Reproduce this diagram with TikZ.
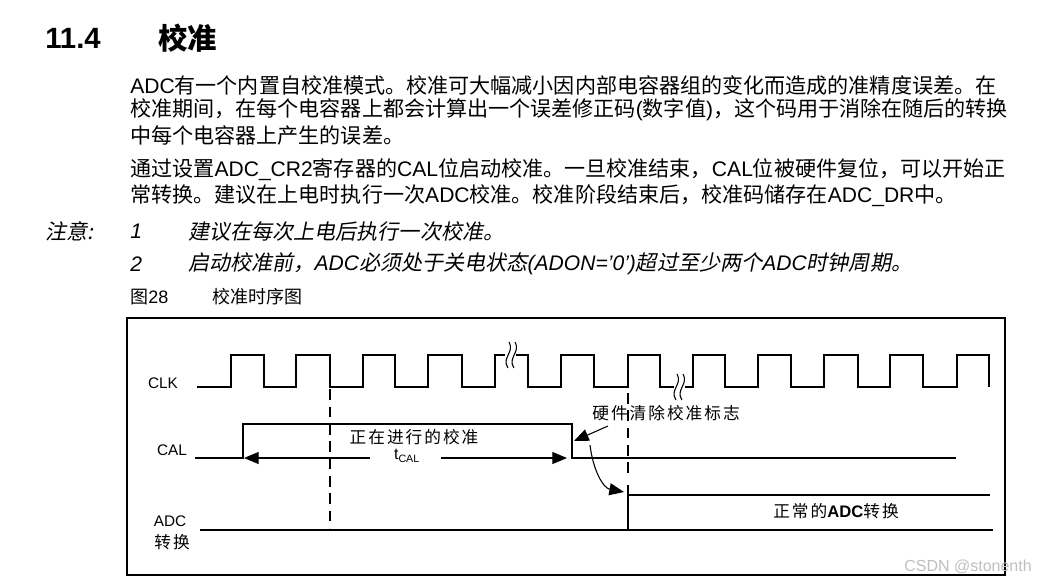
\documentclass[tikz,border=0pt]{standalone}
\usepackage{fontspec}
\setmainfont{Noto Sans CJK SC}
\newfontfamily\lat{Liberation Sans}
\newfontfamily\cjit[FakeSlant=0.2]{Noto Sans CJK SC}
\newfontfamily\latit{Liberation Sans Italic}
\newfontfamily\cjsp[LetterSpace=12]{Noto Sans CJK SC}
\usetikzlibrary{arrows.meta}
\begin{document}
\begin{tikzpicture}[x=0.75pt,y=-0.75pt,
  body/.style={anchor=west,inner sep=0,font=\fontsize{15.8}{17}\selectfont},
  dg/.style={inner sep=0,font=\fontsize{12.5}{14}\selectfont\cjsp},
  sig/.style={line width=0.9pt},
  dsh/.style={line width=0.9pt,dash pattern=on 8pt off 5pt},
  arr/.style={-{Triangle[length=11pt,width=9pt]},line width=0.8pt}]
\useasboundingbox (0,0) rectangle (1048,586);
% title
\node[body,font=\fontsize{22}{24}\bfseries\selectfont\lat] (t1) at (45,38) {11.4};
\node[body,font=\fontsize{22}{24}\selectfont\bfseries] (t2) at (158,38) {校准};
% paragraphs
\node[body] (p1) at (130,85) {{\lat ADC}有一个内置自校准模式。校准可大幅减小因内部电容器组的变化而造成的准精度误差。在};
\node[body] (p2) at (130,110) {校准期间，在每个电容器上都会计算出一个误差修正码{\lat (}数字值{\lat )}，这个码用于消除在随后的转换};
\node[body] (p3) at (130,135) {中每个电容器上产生的误差。};
\node[body] (p4) at (130,170) {通过设置{\lat ADC\_CR2}寄存器的{\lat CAL}位启动校准。一旦校准结束，{\lat CAL}位被硬件复位，可以开始正};
\node[body] (p5) at (130,196) {常转换。建议在上电时执行一次{\lat ADC}校准。校准阶段结束后，校准码储存在{\lat ADC\_DR}中。};
\node[body,font=\fontsize{15.8}{17}\selectfont\cjit] (n0) at (45,231) {注意:};
\node[body,font=\fontsize{15.8}{17}\selectfont\latit] (n1) at (130,231) {1};
\node[body,font=\fontsize{15.8}{17}\selectfont\cjit] (n1t) at (188,231) {建议在每次上电后执行一次校准。};
\node[body,font=\fontsize{15.8}{17}\selectfont\latit] (n2) at (130,264) {2};
\node[body,font=\fontsize{15.8}{17}\selectfont\cjit] (n2t) at (188,264) {启动校准前，{\latit ADC}必须处于关电状态{\latit (ADON=’0’)}超过至少两个{\latit ADC}时钟周期。};
\node[body,font=\fontsize{13.5}{15}\selectfont] (f1) at (130,297) {图{\lat 28}};
\node[body,font=\fontsize{13.5}{15}\selectfont] (f2) at (212,297) {校准时序图};
% frame
\draw[line width=0.9pt] (127,318) rectangle (1005,575);
% labels
\node[dg,font=\fontsize{11.5}{13}\selectfont\lat] (clk) at (163,383) {CLK};
\node[dg,font=\fontsize{11.5}{13}\selectfont\lat] (cal) at (172,450) {CAL};
\node[dg,font=\fontsize{11.5}{13}\selectfont\lat] (adc) at (170,521) {ADC};
\node[dg] (adc2) at (172,542) {转换};
% clock
\draw[sig] (197,387) -- (231,387) -- (231,355) -- (264,355) -- (264,387) -- (296,387) -- (296,355) -- (330,355) -- (330,387)
 -- (363,387) -- (363,355) -- (395,355) -- (395,387) -- (428,387) -- (428,355) -- (462,355) -- (462,387) -- (495,387) -- (495,355)
 -- (528,355) -- (528,387) -- (561,387) -- (561,355) -- (594,355) -- (594,387) -- (628,387) -- (628,355) -- (660,355) -- (660,387)
 -- (693,387) -- (693,355) -- (725,355) -- (725,387) -- (758,387) -- (758,355) -- (791,355) -- (791,387) -- (824,387) -- (824,355)
 -- (858,355) -- (858,387) -- (890,387) -- (890,355) -- (923,355) -- (923,387) -- (957,387) -- (957,355) -- (989,355) -- (989,387);
% break squiggles
\fill[white] (505,352) rectangle (516,358);
\draw[line width=0.8pt] (508,368) .. controls (501,358) and (515,352) .. (509,342) (514,368) .. controls (507,358) and (521,352) .. (515,342);
\fill[white] (674,384) rectangle (685,390);
\draw[line width=0.8pt] (676,400) .. controls (669,390) and (683,384) .. (677,374) (682,400) .. controls (675,390) and (689,384) .. (683,374);
% CAL
\draw[sig] (195,458) -- (243,458) -- (243,424) -- (572,424) -- (572,458) -- (956,458);
\node[dg] (run) at (414,437) {正在进行的校准};
\node[dg,font=\fontsize{12}{14}\selectfont\lat] (tcal) at (407,456) {t\textsubscript{CAL}};
\coordinate (ta) at (244,458); \coordinate (tb) at (567,458);
\draw[arr] (370,458) -- (ta);
\draw[arr] (441,458) -- (tb);
% dashed
\draw[dsh] (330,372) -- (330,528);
\draw[dsh] (628,393) -- (628,478);
% ADC
\draw[sig] (200,530) -- (993,530);
\draw[sig] (628,485) -- (628,530);
\draw[sig] (628,495) -- (990,495);
\node[dg] (norm) at (836,511) {正常的{\lat\bfseries ADC}转换};
\node[dg] (hw) at (666,413) {硬件清除校准标志};
\coordinate (hwa) at (574,441);
\draw[arr] (608,426) -- (hwa);
\coordinate (cs) at (590,445); \coordinate (ce) at (624,492);
\draw[arr] (cs) .. controls (593,470) and (603,488) .. (ce);
\node[inner sep=0,text=black!25,font=\fontsize{12}{14}\selectfont\lat] (wm) at (968,567) {CSDN @stonenth};
\end{tikzpicture}
\end{document}
